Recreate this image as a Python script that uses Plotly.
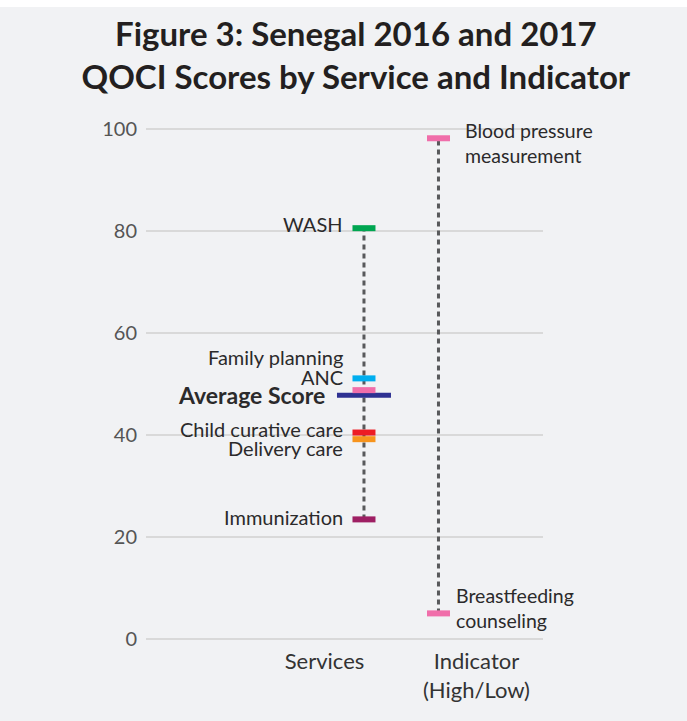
import plotly.graph_objects as go

# ---- data ----
service_names = ["WASH", "Family planning", "ANC", "Child curative care", "Delivery care", "Immunization"]
service_scores = [80.5, 51.1, 48.8, 40.5, 39.2, 23.5]
service_colors = ["#00a651", "#00aeef", "#f06eaa", "#ed1c24", "#f7941d", "#9e1f63"]

average_label = "Average Score"
average_score = 47.8

indicator_names = ["Blood pressure<br>measurement", "Breastfeeding<br>counseling"]
indicator_scores = [98.1, 5.1]
indicator_color = "#f06eaa"

x_tick_labels = ["Services", "Indicator<br>(High/Low)"]
y_tick_values = [0, 20, 40, 60, 80, 100]

# ---- label placement (pixel offsets, styling only) ----
service_label_yshift = [4, 21, 13, 4, -9, 2]
indicator_label_shift = [(26, -5), (17, 5)]

FONT = "Lato"
DARK = "#2b2a2b"
GRID = "#d9d9d9"
BG = "#f1f2f4"

SERV_X = 0
IND_X = 1

W, H = 687, 721
T, B = 126, 79
PLOT_H = H - T - B

# plotly draws line-ew markers 1.4x the nominal size
TICK_MARK = 23 / 1.4
AVG_MARK = 54 / 1.4

fig = go.Figure()

# dotted range lines
fig.add_trace(go.Scatter(
    x=[SERV_X, SERV_X], y=[min(service_scores), max(service_scores)],
    mode="lines", line=dict(color="#58595b", width=3, dash="5px,4px"),
    hoverinfo="skip", showlegend=False))
fig.add_trace(go.Scatter(
    x=[IND_X, IND_X], y=[min(indicator_scores), max(indicator_scores)],
    mode="lines", line=dict(color="#58595b", width=3, dash="5px,4px"),
    hoverinfo="skip", showlegend=False))

# average score bar
fig.add_trace(go.Scatter(
    x=[SERV_X], y=[average_score], mode="markers",
    marker=dict(symbol="line-ew", size=AVG_MARK, line=dict(width=5, color="#2e3192")),
    showlegend=False, name=average_label))

# service markers
for name, val, col in zip(service_names, service_scores, service_colors):
    fig.add_trace(go.Scatter(
        x=[SERV_X], y=[val], mode="markers",
        marker=dict(symbol="line-ew", size=TICK_MARK, line=dict(width=6, color=col)),
        showlegend=False, name=name))

# indicator markers
fig.add_trace(go.Scatter(
    x=[IND_X] * len(indicator_scores), y=indicator_scores, mode="markers",
    marker=dict(symbol="line-ew", size=TICK_MARK, line=dict(width=6, color=indicator_color)),
    showlegend=False))

annotations = []
for name, val, ys in zip(service_names, service_scores, service_label_yshift):
    annotations.append(dict(
        x=SERV_X, y=val, xref="x", yref="y", text=name, showarrow=False,
        xanchor="right", yanchor="middle", xshift=-20, yshift=ys, borderpad=0,
        font=dict(family=FONT, size=20, color=DARK)))
annotations.append(dict(
    x=SERV_X, y=average_score, xref="x", yref="y", text="<b>" + average_label + "</b>",
    showarrow=False, xanchor="right", yanchor="middle", xshift=-38, yshift=0, borderpad=0,
    font=dict(family=FONT, size=23, color=DARK)))
for name, val, (xs, ys) in zip(indicator_names, indicator_scores, indicator_label_shift):
    annotations.append(dict(
        x=IND_X, y=val, xref="x", yref="y", text=name, showarrow=False,
        xanchor="left", yanchor="middle", align="left", xshift=xs, yshift=ys, borderpad=0,
        font=dict(family=FONT, size=19.5, color=DARK)))

fig.update_layout(
    width=W, height=H,
    paper_bgcolor=BG, plot_bgcolor=BG,
    margin=dict(l=146, r=144, t=T, b=B),
    title=dict(
        text="<b>Figure 3: Senegal 2016 and 2017<br>QOCI Scores by Service and Indicator</b>",
        x=0.518, xanchor="center", y=1 - 46 / H, yanchor="middle",
        xref="container", yref="container",
        font=dict(family=FONT, size=33, color="#231f20")),
    annotations=annotations,
    shapes=[dict(type="rect", xref="paper", yref="paper", x0=-1, x1=2,
                 y0=1 + (T - 7) / PLOT_H, y1=2, fillcolor="white",
                 line=dict(width=0), layer="below")],
    xaxis=dict(range=[-2.926, 2.403], showgrid=False, zeroline=False, showline=False,
               tickmode="array", tickvals=[-0.53, 1.51], ticktext=x_tick_labels,
               tickfont=dict(family=FONT, size=22, color="#333333"), ticks="",
               ticklabelstandoff=4),
    yaxis=dict(range=[-0.5, 100.5], tickmode="array", tickvals=y_tick_values,
               showgrid=True, gridcolor=GRID, gridwidth=2, zeroline=False, showline=False,
               tickfont=dict(family=FONT, size=20, color="#555555"), ticks="",
               ticklabelstandoff=8),
)

fig.write_html("out.html", config={"displayModeBar": False},
               post_script="document.body.style.margin='0';")
